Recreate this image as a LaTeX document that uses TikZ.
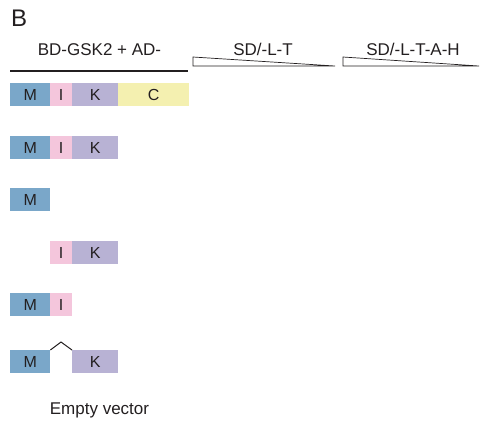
\documentclass[tikz,border=0pt]{standalone}
\usepackage{fontspec}
\setmainfont{Liberation Sans}
\definecolor{mblue}{HTML}{7AA7C9}
\definecolor{ipink}{HTML}{F4C6DC}
\definecolor{klav}{HTML}{B8B2D4}
\definecolor{cyel}{HTML}{F4F0B0}
\definecolor{ink}{HTML}{231F20}
\tikzset{
  seg/.style={inner sep=0pt, minimum height=23bp, anchor=north west, text=ink,
    font=\fontsize{16bp}{18bp}\selectfont},
  lab/.style={inner sep=0pt, anchor=base, text=ink, font=\fontsize{17bp}{19bp}\selectfont},
  wedge/.style={draw=ink, line width=0.7bp, line join=miter}
}
\begin{document}
\begin{tikzpicture}[x=1bp,y=-1bp]
\useasboundingbox (0,0) rectangle (482,421);
% panel letter
\node[inner sep=0pt, anchor=base west, text=ink, font=\fontsize{24bp}{26bp}\selectfont] (B) at (11,26.5) {B};
% header
\node[lab] (hdr) at (99.5,55) {BD-GSK2 + AD-};
\coordinate (barL) at (10,71);
\coordinate (barR) at (188,71);
\draw[line width=2.2bp, ink] (barL) -- (barR);
\node[lab] (sd1) at (263,55) {SD/-L-T};
\node[lab] (sd2) at (413,55) {SD/-L-T-A-H};
\draw[wedge] (193,57) -- (335,66) -- (193,66) -- cycle;
\draw[wedge] (343,57) -- (479,66) -- (343,66) -- cycle;
% row 1
\node[seg, fill=mblue, minimum width=40bp] (m1) at (10,83) {M};
\node[seg, fill=ipink, minimum width=22bp] (i1) at (50,83) {I};
\node[seg, fill=klav, minimum width=46bp] (k1) at (72,83) {K};
\node[seg, fill=cyel, minimum width=71bp] (c1) at (118,83) {C};
% row 2
\node[seg, fill=mblue, minimum width=40bp] (m2) at (10,136) {M};
\node[seg, fill=ipink, minimum width=22bp] (i2) at (50,136) {I};
\node[seg, fill=klav, minimum width=46bp] (k2) at (72,136) {K};
% row 3
\node[seg, fill=mblue, minimum width=40bp] (m3) at (10,188) {M};
% row 4
\node[seg, fill=ipink, minimum width=22bp] (i4) at (50,241) {I};
\node[seg, fill=klav, minimum width=46bp] (k4) at (72,241) {K};
% row 5
\node[seg, fill=mblue, minimum width=40bp] (m5) at (10,293) {M};
\node[seg, fill=ipink, minimum width=22bp] (i5) at (50,293) {I};
% row 6
\node[seg, fill=mblue, minimum width=40bp] (m6) at (10,350) {M};
\node[seg, fill=klav, minimum width=46bp] (k6) at (72,350) {K};
\coordinate (peak) at (61,342);
\draw[ink, line width=1bp] (m6.north east) -- (peak) -- (k6.north west);
% empty vector
\node[lab] (ev) at (99.5,414) {Empty vector};
\end{tikzpicture}
\end{document}
